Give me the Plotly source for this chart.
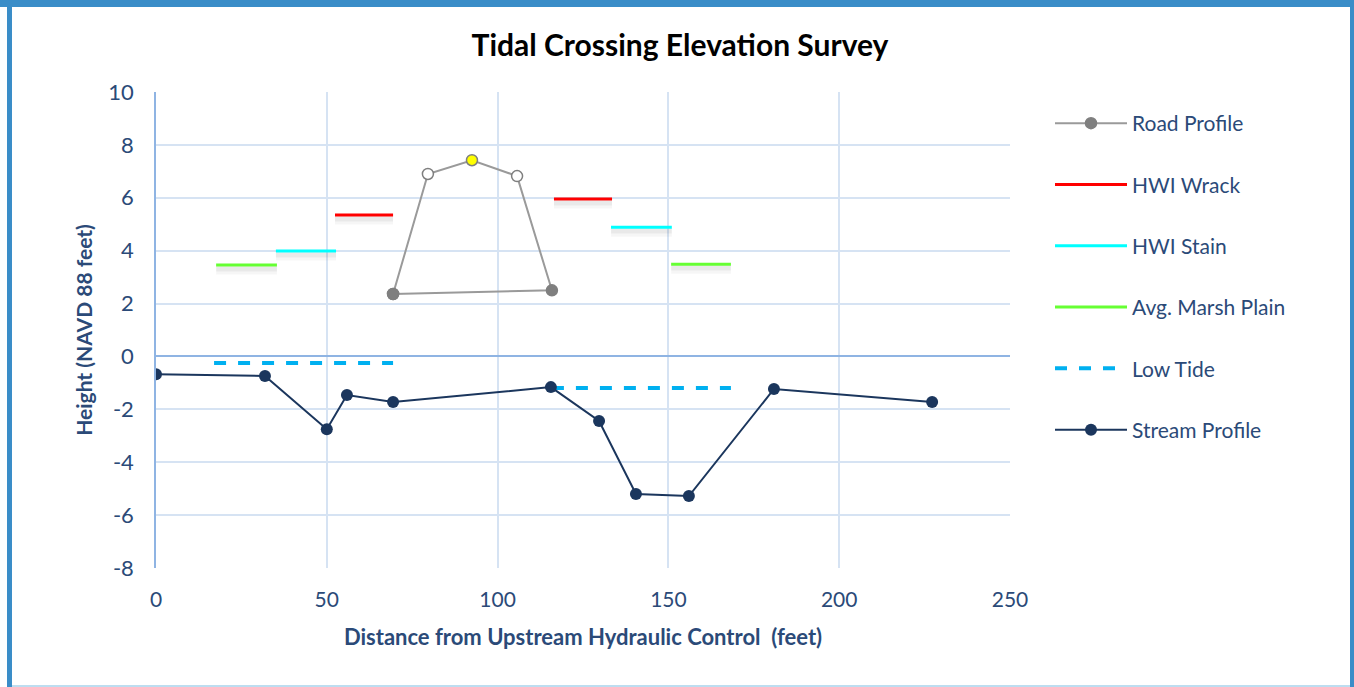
import plotly.graph_objects as go

# ---- data ----
stream_x = [0, 31.9, 50, 55.9, 69.4, 115.6, 129.7, 140.5, 156, 180.9, 227.2]
stream_y = [-0.67, -0.74, -2.75, -1.46, -1.72, -1.16, -2.44, -5.2, -5.28, -1.23, -1.72]

road_x = [69.4, 79.6, 92.5, 105.7, 115.9, 69.4]
road_y = [2.36, 6.9, 7.42, 6.82, 2.5, 2.36]
road_colors = ["#7F7F7F", "#FFFFFF", "#FFFF00", "#FFFFFF", "#7F7F7F", "#7F7F7F"]

wrack_x = [52.4, 69.4, None, 116.5, 133.5]
wrack_y = [5.35, 5.35, None, 5.95, 5.95]

stain_x = [35.1, 52.7, None, 133.2, 151.0]
stain_y = [3.99, 3.99, None, 4.89, 4.89]

marsh_x = [17.6, 35.4, None, 150.8, 168.3]
marsh_y = [3.46, 3.46, None, 3.49, 3.49]

low_x = [17.0, 69.4, None, 115.9, 168.3]
low_y = [-0.25, -0.25, None, -1.19, -1.19]

x_ticks = [0, 50, 100, 150, 200, 250]
x_tick_labels = ["0", "50", "100", "150", "200", "250"]
y_ticks = [-8, -6, -4, -2, 0, 2, 4, 6, 8, 10]
y_tick_labels = ["-8", "-6", "-4", "-2", "0", "2", "4", "6", "8", "10"]

TXT = "#2B4A78"
FONT = "Lato"
FS = 21

fig = go.Figure()

# soft shadows under the short indicator lines
def shadow(xs, ys):
    for off, w, a in [(0.17, 10, 0.035), (0.15, 5, 0.05)]:
        ys2 = [None if v is None else v - off for v in ys]
        fig.add_trace(go.Scatter(x=xs, y=ys2, mode="lines", showlegend=False, hoverinfo="skip",
                                 line=dict(color=f"rgba(0,0,0,{a})", width=w)))

for xs, ys in [(wrack_x, wrack_y), (stain_x, stain_y), (marsh_x, marsh_y)]:
    shadow(xs, ys)

fig.add_trace(go.Scatter(x=road_x, y=road_y, mode="lines+markers", name="Road Profile",
                         legendgroup="a",
                         line=dict(color="#9A9A9A", width=2),
                         marker=dict(size=11, color=road_colors, line=dict(color="#7F7F7F", width=1.5))))
fig.add_trace(go.Scatter(x=wrack_x, y=wrack_y, mode="lines", name="HWI Wrack", legendgroup="b",
                         line=dict(color="#FF0000", width=3)))
fig.add_trace(go.Scatter(x=stain_x, y=stain_y, mode="lines", name="HWI Stain", legendgroup="c",
                         line=dict(color="#00FFFF", width=3)))
fig.add_trace(go.Scatter(x=marsh_x, y=marsh_y, mode="lines", name="Avg. Marsh Plain", legendgroup="d",
                         line=dict(color="#66FF33", width=3)))
fig.add_trace(go.Scatter(x=low_x, y=low_y, mode="lines", name="Low Tide", legendgroup="e",
                         line=dict(color="#00B0F0", width=4, dash="dash")))
fig.add_trace(go.Scatter(x=stream_x, y=stream_y, mode="lines+markers", name="Stream Profile",
                         legendgroup="f",
                         line=dict(color="#1B365D", width=2),
                         marker=dict(size=12, color="#1B365D")))

W, H = 1354, 687
L, R, T, B = 156, 1010, 92, 568

def px(xp):
    return (xp - L) / (R - L)

def py(yp):
    return (B - yp) / (B - T)

shapes = [
    dict(type="rect", xref="paper", yref="paper", x0=px(0), x1=px(1354), y0=py(0), y1=py(7),
         fillcolor="#3A8DC8", line=dict(width=0), layer="above"),
    dict(type="rect", xref="paper", yref="paper", x0=px(7), x1=px(12), y0=py(0), y1=py(687),
         fillcolor="#3A8DC8", line=dict(width=0), layer="above"),
    dict(type="rect", xref="paper", yref="paper", x0=px(1350), x1=px(1354), y0=py(0), y1=py(687),
         fillcolor="#3A8DC8", line=dict(width=0), layer="above"),
    dict(type="rect", xref="paper", yref="paper", x0=px(12), x1=px(1350), y0=py(685), y1=py(687),
         fillcolor="#BDDDF0", line=dict(width=0), layer="above"),
]

fig.update_layout(
    width=W, height=H,
    margin=dict(l=L, r=W - R, t=T, b=H - B, pad=0),
    paper_bgcolor="white", plot_bgcolor="white",
    font=dict(family=FONT, size=FS, color=TXT),
    title=dict(text="<b>Tidal Crossing Elevation Survey</b>", x=680 / W, xanchor="center",
               y=1 - 45 / H, yanchor="middle", font=dict(family=FONT, size=30, color="#000000")),
    xaxis=dict(range=[0, 250], tickvals=x_ticks, ticktext=x_tick_labels,
               showgrid=True, gridcolor="#D6E3F3", gridwidth=1.5,
               zeroline=False, showline=False, ticks="", ticklabelstandoff=17,
               tickfont=dict(size=FS, color=TXT),
               title=dict(text="<b>Distance from Upstream Hydraulic Control  (feet)</b>",
                          font=dict(size=22, color=TXT), standoff=19)),
    yaxis=dict(range=[-8, 10], tickvals=y_ticks, ticktext=y_tick_labels,
               showgrid=True, gridcolor="#D6E3F3", gridwidth=1.5,
               zeroline=True, zerolinecolor="#8FB4E3", zerolinewidth=1.5,
               showline=True, linecolor="#8FB4E3", linewidth=1.5, ticks="", ticklabelstandoff=16,
               tickfont=dict(size=22, color=TXT),
               title=dict(text="<b>Height (NAVD 88 feet)</b>", font=dict(size=FS, color=TXT),
                          standoff=10)),
    legend=dict(x=px(1050), xanchor="left", y=py(103), yanchor="top", itemwidth=72,
                font=dict(size=FS, color=TXT), tracegroupgap=31, bgcolor="rgba(0,0,0,0)"),
    shapes=shapes,
)

fig.write_html("out.html", config={"displayModeBar": False},
               post_script="document.body.style.margin='0';")
